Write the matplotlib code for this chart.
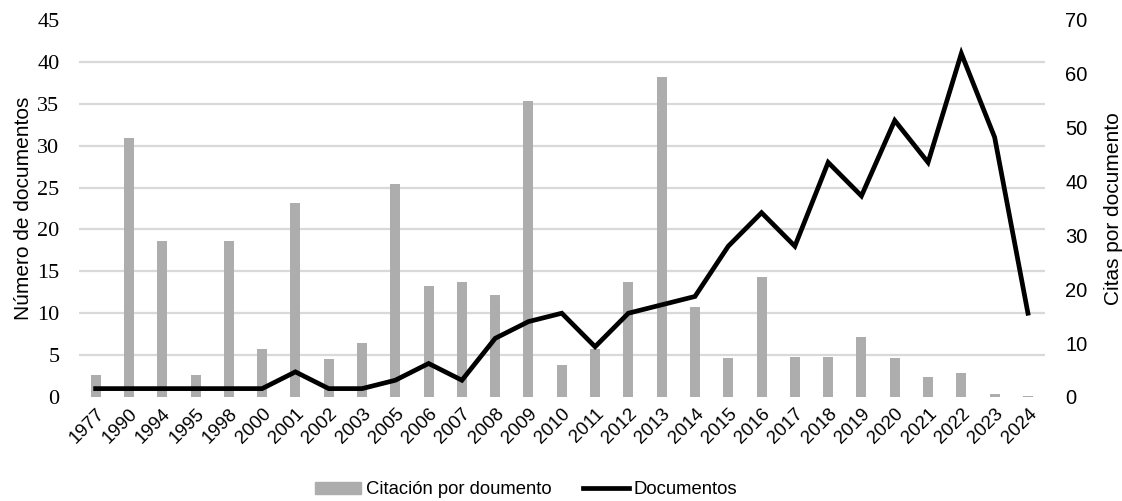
import numpy as np
import matplotlib
matplotlib.use("Agg")
import matplotlib.pyplot as plt
from matplotlib.patches import Patch
from matplotlib.lines import Line2D

years = ["1977", "1990", "1994", "1995", "1998", "2000", "2001", "2002", "2003", "2005",
         "2006", "2007", "2008", "2009", "2010", "2011", "2012", "2013", "2014", "2015",
         "2016", "2017", "2018", "2019", "2020", "2021", "2022", "2023", "2024"]
documentos = [1, 1, 1, 1, 1, 1, 3, 1, 1, 2,
              4, 2, 7, 9, 10, 6, 10, 11, 12, 18,
              22, 18, 28, 24, 33, 28, 41, 31, 10]
citas_por_doc = [4, 48, 29, 4, 29, 9, 36, 7, 10, 39.5,
                 20.6, 21.4, 19, 55, 6, 9, 21.4, 59.4, 16.7, 7.2,
                 22.2, 7.5, 7.5, 11.1, 7.2, 3.7, 4.4, 0.5, 0.1]

BAR = "#adadad"
GRID = "#d9d9d9"

fig = plt.figure(figsize=(11.22, 5.01), dpi=100)
ax = fig.add_axes([0.0704, 0.2076, 0.8606, 0.7525])
ax2 = ax.twinx()
ax.set_zorder(ax2.get_zorder() + 1)
ax.patch.set_visible(False)

x = np.arange(len(years))
ax2.bar(x, citas_por_doc, width=0.3, color=BAR, zorder=2)
ax.plot(x, documentos, color="black", lw=3.4, solid_joinstyle="miter", zorder=3)

ax.set_xlim(-0.5, len(years) - 0.5)
ax.set_ylim(0, 45)
ax2.set_ylim(0, 70)
ax.set_yticks(np.arange(0, 46, 5))
ax2.set_yticks(np.arange(0, 71, 10))
# grid follows the left axis but sits behind the bars
ax2.set_yticks(np.linspace(0, 70, 10), minor=True)
ax2.grid(True, which="minor", axis="y", color=GRID, lw=1.6, zorder=0)
ax2.grid(False, which="major")
ax2.set_axisbelow(True)
ax2.tick_params(which="minor", length=0)

for a in (ax, ax2):
    for s in a.spines.values():
        s.set_visible(False)
ax.tick_params(axis="y", length=0, pad=14)
ax2.tick_params(axis="y", length=0, pad=15)
ax.tick_params(axis="x", length=0, pad=6)

ax.set_xticks(x)
ax.set_xticklabels(years, rotation=45, ha="right", rotation_mode="anchor",
                   family="Liberation Sans", fontsize=13.5)
for t in ax.get_yticklabels():
    t.set_family("Liberation Serif"); t.set_fontsize(16)
for t in ax2.get_yticklabels():
    t.set_family("Liberation Sans"); t.set_fontsize(14.5)

ax.set_ylabel("Número de documentos", family="Liberation Sans", fontsize=15, labelpad=3)
ax2.set_ylabel("Citas por documento", family="Liberation Sans", fontsize=15, labelpad=12)

handles = [Patch(color=BAR), Line2D([0], [0], color="black", lw=3.4)]
fig.legend(handles, ["Citación por doumento", "Documentos"], loc="center",
           bbox_to_anchor=(526 / 1122, 1 - 490 / 501), ncol=2, frameon=False,
           prop={"family": "Liberation Sans", "size": 13.3}, handlelength=2.5,
           handletextpad=0.25, columnspacing=1.7, handleheight=0.6)

fig.savefig("out.png", dpi=100)
